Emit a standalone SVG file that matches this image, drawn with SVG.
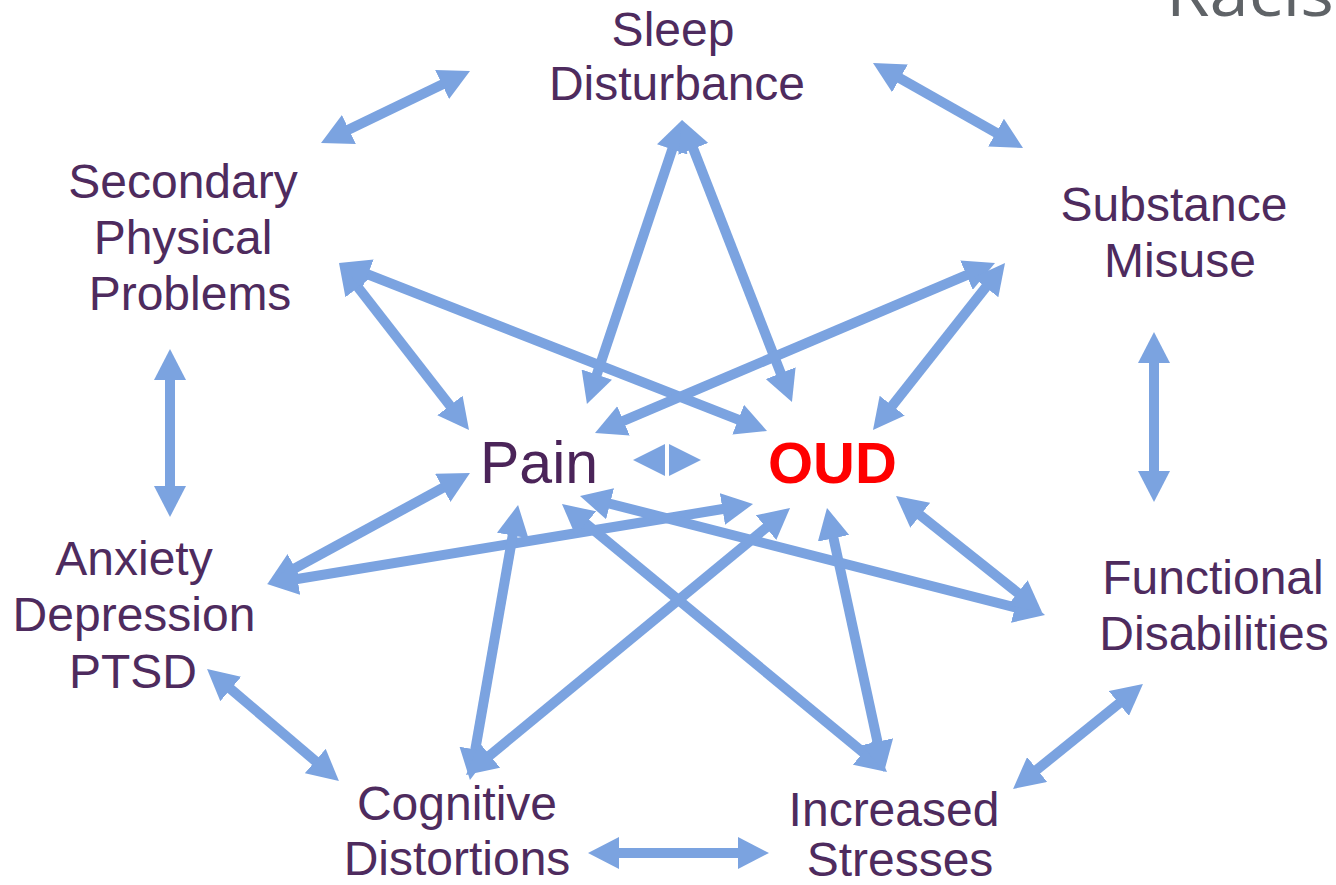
<svg xmlns="http://www.w3.org/2000/svg" width="1336" height="885" viewBox="0 0 1336 885">
<style>
.lbl{font-family:"Liberation Sans",Arial,sans-serif;font-size:48px;fill:#4E2B5E;text-anchor:middle}
.arr{stroke:#7BA3E0;stroke-width:10;fill:none;marker-start:url(#ah);marker-end:url(#ah)}
.hd{fill:#7BA3E0}
</style>
<defs>
<marker id="ah" markerUnits="userSpaceOnUse" markerWidth="32" markerHeight="32" viewBox="0 0 32 32" refX="11" refY="16" orient="auto-start-reverse">
<path d="M0,0 L31,16 L0,32 z" fill="#7BA3E0"/>
</marker>
</defs>
<rect width="1336" height="885" fill="#fff"/>
<text x="1166" y="16" font-family="'Open Sans','Liberation Sans',sans-serif" font-size="64" fill="#5F6367" textLength="168" lengthAdjust="spacingAndGlyphs">Racis</text>
<g id="connectors">
<line class="arr" x1="339" y1="134.3" x2="452" y2="79.7"/>
<line class="arr" x1="890.4" y1="72.9" x2="1005.6" y2="138.1"/>
<line class="arr" x1="1154" y1="352" x2="1154" y2="482"/>
<line class="arr" x1="1127.4" y1="696.6" x2="1028.6" y2="776.4"/>
<line class="arr" x1="749" y1="853" x2="608" y2="853"/>
<line class="arr" x1="323.7" y1="768.1" x2="222.3" y2="681.9"/>
<line class="arr" x1="170" y1="497" x2="170" y2="369"/>
<line class="arr" x1="675.7" y1="139" x2="593.3" y2="385"/>
<line class="arr" x1="689.3" y1="138.6" x2="784.7" y2="383.4"/>
<line class="arr" x1="351.3" y1="278.8" x2="456.7" y2="414.2"/>
<line class="arr" x1="357.6" y1="270.3" x2="748.4" y2="423.7"/>
<line class="arr" x1="976.6" y1="270.8" x2="613.4" y2="425.2"/>
<line class="arr" x1="992.6" y1="278.7" x2="885.4" y2="414.3"/>
<line class="arr" x1="452.4" y1="482.6" x2="285.6" y2="573.4"/>
<line class="arr" x1="286.7" y1="580.75" x2="733.3" y2="507.25"/>
<line class="arr" x1="473.4" y1="760.3" x2="514.6" y2="524.7"/>
<line class="arr" x1="481.4" y1="762.3" x2="774.6" y2="520.7"/>
<line class="arr" x1="871.6" y1="759.3" x2="577.4" y2="516.7"/>
<line class="arr" x1="879.8" y1="752.5" x2="831.2" y2="527.5"/>
<line class="arr" x1="1025.6" y1="610" x2="599.4" y2="501"/>
<line class="arr" x1="1026.3" y1="599.6" x2="911.7" y2="508.4"/>
<polygon class="hd" points="633,460 665,444 665,476"/>
<polygon class="hd" points="701,460 669,444 669,476"/>
</g>
<g id="sleep"><text class="lbl" x="673" y="46">Sleep</text><text class="lbl" x="677" y="100">Disturbance</text></g>
<g id="secondary"><text class="lbl" x="183" y="198">Secondary</text><text class="lbl" x="183" y="254">Physical</text><text class="lbl" x="190" y="310">Problems</text></g>
<g id="substance"><text class="lbl" x="1174" y="221">Substance</text><text class="lbl" x="1180" y="277">Misuse</text></g>
<g id="anxiety"><text class="lbl" x="134" y="575">Anxiety</text><text class="lbl" x="134" y="631">Depression</text><text class="lbl" x="133" y="688">PTSD</text></g>
<g id="functional"><text class="lbl" x="1213" y="594">Functional</text><text class="lbl" x="1214" y="650">Disabilities</text></g>
<g id="cognitive"><text class="lbl" x="457" y="820">Cognitive</text><text class="lbl" x="457" y="875">Distortions</text></g>
<g id="increased"><text class="lbl" x="894" y="826">Increased</text><text class="lbl" x="900" y="876">Stresses</text></g>
<g id="pain"><text x="480" y="483" font-family="'Liberation Sans',Arial,sans-serif" font-size="59" fill="#4B2459">Pain</text></g>
<g id="oud"><text x="768" y="483" font-family="'Liberation Sans',Arial,sans-serif" font-size="58" font-weight="bold" fill="#FF0000">OUD</text></g>
</svg>
